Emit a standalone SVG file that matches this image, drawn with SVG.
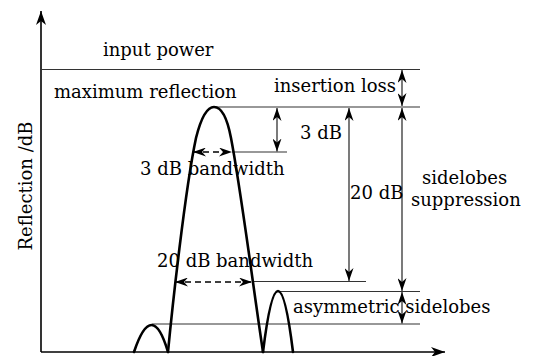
<svg xmlns="http://www.w3.org/2000/svg" width="534" height="356" viewBox="0 0 534 356">
<style>
text{font-family:"DejaVu Serif","Liberation Serif",serif;font-size:18px;fill:#000}
.axis{stroke:#000;stroke-width:1.6;fill:none}
.ref{stroke:#333;stroke-width:1.1;fill:none}
.curve{stroke:#000;stroke-width:2.6;fill:none;stroke-linecap:round}
.dim{stroke:#222;stroke-width:1.2;fill:none;marker-start:url(#ah);marker-end:url(#ah)}
.dash{stroke:#000;stroke-width:1.4;fill:none;stroke-dasharray:6 4;marker-start:url(#ah);marker-end:url(#ah)}
</style>
<defs>
<marker id="ah" viewBox="0 0 13 9" refX="13" refY="4.5" markerWidth="13" markerHeight="9" markerUnits="userSpaceOnUse" orient="auto-start-reverse">
<path d="M0,0 L13,4.5 L0,9 L4,4.5 Z" fill="#000"/>
</marker>
<marker id="axh" viewBox="0 0 14 10" refX="14" refY="5" markerWidth="14" markerHeight="10" markerUnits="userSpaceOnUse" orient="auto">
<path d="M0,0 L14,5 L0,10 L4,5 Z" fill="#000"/>
</marker>
</defs>
<rect width="534" height="356" fill="#fff"/>
<g id="axes">
<line class="axis" x1="41" y1="352" x2="41" y2="11" marker-end="url(#axh)"/>
<line class="axis" x1="41" y1="352" x2="445" y2="352" marker-end="url(#axh)"/>
<text transform="translate(32,186) rotate(-90)" text-anchor="middle">Reflection /dB</text>
</g>
<g id="reference-lines">
<line class="ref" x1="41" y1="69.5" x2="420" y2="69.5"/>
<line class="ref" x1="214" y1="107" x2="420" y2="107"/>
<line class="ref" x1="232" y1="152" x2="287" y2="152"/>
<line class="ref" x1="252" y1="281.5" x2="366" y2="281.5"/>
<line class="ref" x1="278" y1="291.5" x2="420" y2="291.5"/>
<line class="ref" x1="152" y1="324" x2="420" y2="324"/>
</g>
<g id="spectrum">
<path class="curve" d="M134,352 Q152,298 168,352"/>
<path class="curve" d="M168,352 C172,310 185,190 196,138 C202,114 208,107 214,107 C221,107 227,117 231,138 C241,190 255,300 263,352"/>
<path class="curve" d="M263,352 Q278,230 293,352"/>
</g>
<g id="connectors">
<line class="dim" x1="402" y1="70" x2="402" y2="106"/>
<line class="dim" x1="402" y1="108" x2="402" y2="291"/>
<line class="dim" x1="402" y1="292" x2="402" y2="323.5"/>
<line class="dim" x1="277" y1="108" x2="277" y2="151.5"/>
<line class="dim" x1="349" y1="108" x2="349" y2="281"/>
<line class="dash" x1="193" y1="152" x2="232" y2="152"/>
<line class="dash" x1="175" y1="282" x2="252" y2="282"/>
</g>
<g id="labels">
<text x="103" y="56">input power</text>
<text x="54" y="98">maximum reflection</text>
<text x="274" y="92">insertion loss</text>
<text x="300" y="139">3 dB</text>
<text x="140" y="175">3 dB bandwidth</text>
<text x="350" y="199">20 dB</text>
<text x="422" y="184">sidelobes</text>
<text x="411" y="206">suppression</text>
<text x="157" y="267">20 dB bandwidth</text>
<text x="293" y="313">asymmetric sidelobes</text>
</g>
</svg>
